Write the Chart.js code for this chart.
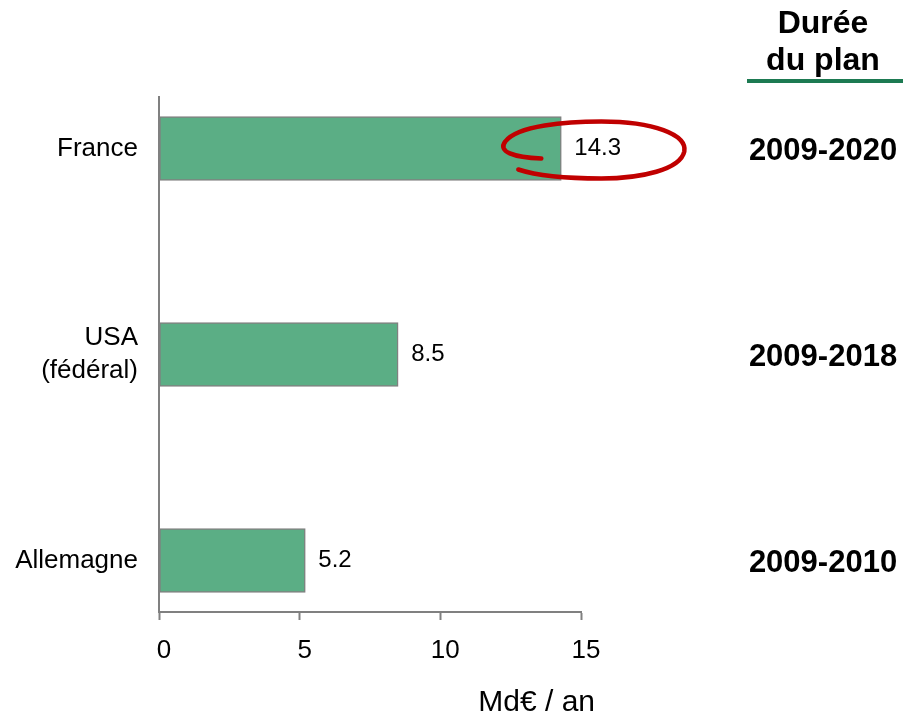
<!DOCTYPE html>
<html>
<head>
<meta charset="utf-8">
<script src="https://cdn.jsdelivr.net/npm/chart.js@4"></script>
<style>
  body { margin: 0; background: #fff; }
  #wrap { width: 903px; height: 718px; }
</style>
</head>
<body>
<div id="wrap"><canvas id="planChart" width="903" height="718"></canvas></div>
<script>
// chart data
const countries = ["France", ["USA", "(fédéral)"], "Allemagne"];
const amounts = [14.3, 8.5, 5.2];
const periods = ["2009-2020", "2009-2018", "2009-2010"];
const xTicks = [0, 5, 10, 15];
const headerLines = ["Durée", "du plan"];
const unitLabel = "Md€ / an";
const circledIndex = 0;

const FONT = "'Liberation Sans', Arial, sans-serif";

// labels, years, header and the red circle
const extras = {
  id: "extras",
  afterDatasetsDraw(chart) {
    const ctx = chart.ctx;
    const area = chart.chartArea;
    const yScale = chart.scales.y;
    const bars = chart.getDatasetMeta(0).data;
    ctx.save();

    // value labels
    ctx.fillStyle = "#000";
    ctx.font = "24px " + FONT;
    ctx.textAlign = "left";
    ctx.textBaseline = "middle";
    bars.forEach(function (bar, i) {
      ctx.fillText(String(amounts[i]), bar.x + 13, bar.y);
    });

    // red hand drawn loop around the France value
    const b = bars[circledIndex];
    const x = b.x, y = b.y;
    ctx.strokeStyle = "#c00000";
    ctx.lineWidth = 4.5;
    ctx.lineCap = "round";
    ctx.beginPath();
    ctx.moveTo(x - 20, y + 10);
    ctx.bezierCurveTo(x - 48, y + 9, x - 64, y + 3, x - 56, y - 7);
    ctx.bezierCurveTo(x - 44, y - 23, x + 5, y - 27, x + 40, y - 27);
    ctx.bezierCurveTo(x + 92, y - 27, x + 126, y - 14, x + 123, y + 3);
    ctx.bezierCurveTo(x + 119, y + 21, x + 80, y + 30, x + 40, y + 30);
    ctx.bezierCurveTo(x + 5, y + 30, x - 25, y + 27, x - 43, y + 21);
    ctx.stroke();

    // durations column
    const colX = area.right + 242;
    ctx.textAlign = "center";
    ctx.font = "bold 31px " + FONT;
    periods.forEach(function (p, i) {
      ctx.fillText(p, colX, yScale.getPixelForValue(i) + 3);
    });
    ctx.font = "bold 32px " + FONT;
    ctx.fillText(headerLines[0], colX, 24);
    ctx.fillText(headerLines[1], colX, 61);
    ctx.fillStyle = "#1d7a52";
    ctx.fillRect(area.right + 166, 79, 160, 4);

    // unit
    ctx.fillStyle = "#000";
    ctx.font = "30px " + FONT;
    ctx.textAlign = "right";
    ctx.fillText(unitLabel, area.right + 14, 703);
    ctx.restore();
  }
};

new Chart(document.getElementById("planChart"), {
  type: "bar",
  data: {
    datasets: [{
      data: amounts.map(function (v, i) { return { x: v, y: i }; }),
      backgroundColor: "#5bae85",
      borderColor: "#808080",
      borderWidth: 1.5,
      borderSkipped: false,
      barThickness: 64
    }]
  },
  options: {
    indexAxis: "y",
    responsive: false,
    animation: false,
    layout: { padding: { top: 97, right: 322, left: 0, bottom: 0 } },
    plugins: { legend: { display: false }, tooltip: { enabled: false } },
    scales: {
      x: {
        type: "linear",
        min: 0,
        max: 15,
        afterBuildTicks: function (scale) {
          scale.ticks = xTicks.map(function (v) { return { value: v }; });
        },
        afterFit: function (scale) { scale.height = 106; },
        grid: { drawOnChartArea: false, drawTicks: true, tickLength: 8, tickColor: "#808080", tickWidth: 2 },
        border: { color: "#808080", width: 2 },
        ticks: { color: "#000", font: { family: FONT, size: 26 }, padding: 15, labelOffset: 5 }
      },
      y: {
        type: "linear",
        reverse: true,
        offset: false,
        min: -0.25,
        max: 2.25,
        afterBuildTicks: function (scale) {
          scale.ticks = countries.map(function (c, i) { return { value: i }; });
        },
        afterFit: function (scale) { scale.width = 159; },
        grid: { display: false, drawTicks: false },
        border: { color: "#808080", width: 2 },
        ticks: {
          color: "#000",
          font: { family: FONT, size: 26, lineHeight: 1.25 },
          padding: 21,
          callback: function (v) { return countries[v]; }
        }
      }
    }
  },
  plugins: [extras]
});
</script>
</body>
</html>
